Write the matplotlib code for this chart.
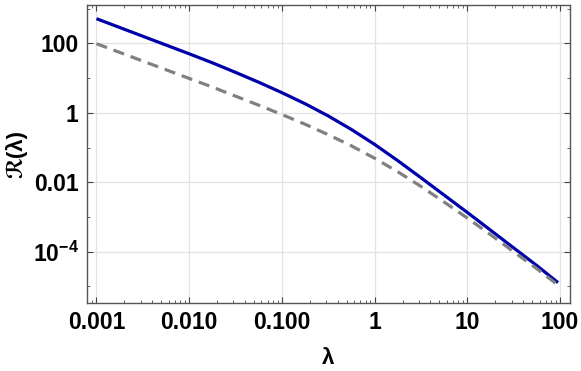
import numpy as np
import matplotlib
matplotlib.use('Agg')
import matplotlib.pyplot as plt
from matplotlib.ticker import FixedLocator, NullFormatter, LogLocator

plt.rcParams['font.family'] = ['Liberation Sans', 'DejaVu Sans']
plt.rcParams['mathtext.fontset'] = 'custom'
plt.rcParams['mathtext.rm'] = 'Liberation Sans:bold'
plt.rcParams['mathtext.bf'] = 'Liberation Sans:bold'
plt.rcParams['mathtext.it'] = 'Liberation Sans:bold:italic'

# values
lam = [0.001, 0.00316, 0.01, 0.0178, 0.0316, 0.0562, 0.1, 0.178, 0.316, 0.562,
       1.0, 1.78, 3.16, 5.62, 10.0, 17.8, 31.6, 56.2, 95.0]
r_full = [513, 160, 50, 27.5, 14.6, 7.59, 3.80, 1.82, 0.813, 0.331,
          0.123, 0.0417, 0.0135, 0.00427, 0.00135, 4.17e-4, 1.29e-4, 3.98e-5, 1.29e-5]
r_approx = [97.7, 30.9, 9.77, 5.50, 3.02, 1.66, 0.891, 0.468, 0.234, 0.112,
            0.049, 0.020, 0.00759, 0.00269, 9.33e-4, 3.09e-4, 1.0e-4, 3.24e-5, 1.10e-5]

xticks = [0.001, 0.01, 0.1, 1, 10, 100]
xticklabels = ['0.001', '0.010', '0.100', '1', '10', '100']
yticks = [1e2, 1, 1e-2, 1e-4]
yticklabels = ['100', '1', '0.01', r'$\mathbf{10^{-4}}$']

fig = plt.figure(figsize=(5.81, 3.71), dpi=100)
ax = fig.add_axes([0.1497, 0.184, 0.9811 - 0.1497, 0.9865 - 0.184])

ax.plot(lam, r_full, color='#0000AA', lw=2.3, solid_capstyle='butt')
ax.plot(lam, r_approx, color='#808080', lw=2.3, linestyle=(0, (3.5, 2.2)))

ax.set_xscale('log')
ax.set_yscale('log')
ax.set_xlim(7.9e-4, 128)
ax.set_ylim(3.4e-6, 1270)

ax.set_xticks(xticks)
ax.set_xticklabels(xticklabels)
ax.xaxis.set_minor_locator(LogLocator(base=10, subs=np.arange(2, 10)))
ax.xaxis.set_minor_formatter(NullFormatter())

ax.set_yticks(yticks)
ax.set_yticklabels(yticklabels)
ax.yaxis.set_minor_locator(FixedLocator([1e3, 10, 0.1, 1e-3, 1e-5]))
ax.yaxis.set_minor_formatter(NullFormatter())

ax.tick_params(which='both', direction='in', top=True, right=True,
               color='#444444', labelsize=16.5, pad=6)
ax.tick_params(which='major', length=4.5, width=0.8)
ax.tick_params(which='minor', length=2.5, width=0.6)
for lab in ax.get_xticklabels() + ax.get_yticklabels():
    lab.set_fontweight('bold')

ax.grid(True, which='major', color='#e2e2e2', lw=0.9)
ax.set_axisbelow(True)
for s in ax.spines.values():
    s.set_color('#555555')
    s.set_linewidth(1.0)

ax.set_xlabel('λ', fontsize=16, fontweight='bold', labelpad=10)
ax.set_ylabel('ℛ(λ)', fontsize=16, fontweight='bold', labelpad=4)

fig.savefig('out.png', dpi=100)
